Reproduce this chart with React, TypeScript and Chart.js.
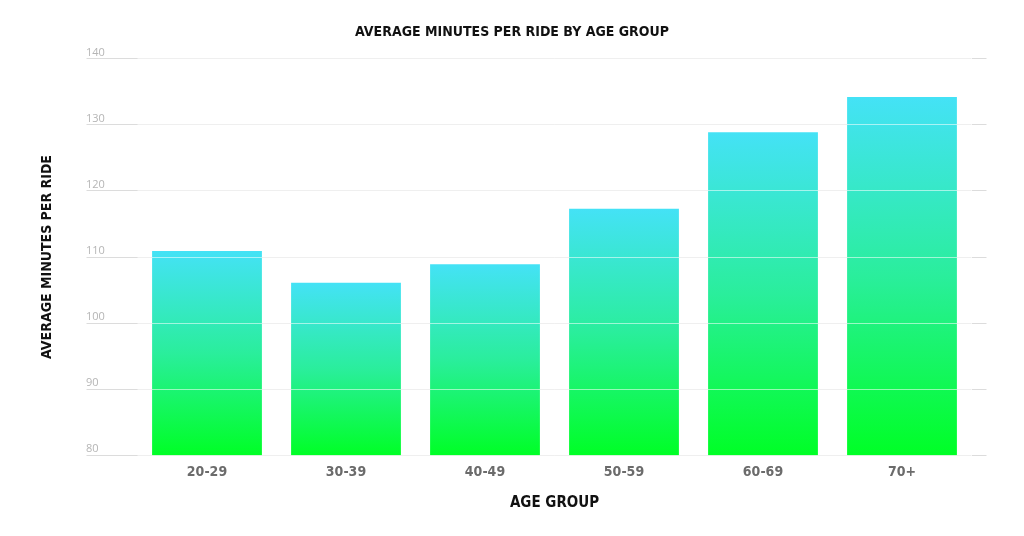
import { useRef, useEffect } from "react"
import { Chart, registerables } from "chart.js"

Chart.register(...registerables)

const ageGroups = ["20-29", "30-39", "40-49", "50-59", "60-69", "70+"]
const avgMinutes = [110.9, 106.1, 108.9, 117.3, 128.9, 134.2]
const yMin = 80
const yMax = 140
const yStep = 10

const narrow = "'Liberation Sans Narrow', 'DejaVu Sans Condensed', sans-serif"

function barGradient(c: any) {
  const chart = c.chart
  const y = chart.scales && chart.scales.y
  if (!chart.chartArea || !y || c.raw == null) return "#2BEE98"
  const top = y.getPixelForValue(c.raw)
  const base = y.getPixelForValue(yMin)
  const g = chart.ctx.createLinearGradient(0, top, 0, base)
  g.addColorStop(0, "#44E2F6")
  g.addColorStop(0.5, "#2AEE9C")
  g.addColorStop(1, "#00FF26")
  return g
}

export default function App() {
  const chartRef = useRef<HTMLCanvasElement>(null)
  const chartInstance = useRef<Chart | null>(null)

  useEffect(() => {
    if (!chartRef.current) return
    if (chartInstance.current) chartInstance.current.destroy()
    const ctx = chartRef.current.getContext("2d")
    if (!ctx) return

    chartInstance.current = new Chart(ctx, {
      type: "bar",
      data: {
        labels: ageGroups,
        datasets: [
          {
            label: "Average minutes per ride",
            data: avgMinutes,
            xAxisID: "x",
            yAxisID: "y",
            backgroundColor: barGradient,
            borderWidth: 0,
            categoryPercentage: 1,
            barPercentage: 0.79,
          },
        ],
      },
      options: {
        animation: false,
        responsive: false,
        maintainAspectRatio: false,
        layout: { padding: { left: 0, right: 0, top: 0, bottom: 18 } },
        plugins: {
          legend: { display: false },
          tooltip: { enabled: false },
          title: {
            display: true,
            text: "AVERAGE MINUTES PER RIDE BY AGE GROUP",
            color: "#111",
            font: { family: narrow, size: 14, weight: "bold" },
            padding: { top: 24, bottom: 18 },
          },
        },
        scales: {
          x: {
            grid: { display: false, drawTicks: false },
            border: { display: false },
            ticks: {
              color: "#6b6b6b",
              font: { family: narrow, size: 14, weight: "bold" },
              padding: 9,
            },
            title: {
              display: true,
              text: "AGE GROUP",
              color: "#111",
              font: { family: narrow, size: 15, weight: "bold" },
              padding: { top: 4, bottom: 6 },
            },
          },
          yTitle: {
            type: "linear",
            position: "left",
            weight: 1,
            min: 0,
            max: 1,
            grid: { display: false, drawTicks: false },
            border: { display: false },
            ticks: { display: false },
            title: {
              display: true,
              text: "AVERAGE MINUTES PER RIDE",
              color: "#111",
              font: { family: narrow, size: 14, weight: "bold" },
              padding: { top: 39, bottom: 0 },
            },
            afterFit: (s: any) => {
              s.width = 86
            },
          },
          y: {
            type: "linear",
            position: "left",
            weight: 0,
            min: yMin,
            max: yMax,
            grid: { color: "#dcdcdc", tickColor: "#dcdcdc", tickLength: 51, lineWidth: 1 },
            border: { display: false },
            ticks: {
              stepSize: yStep,
              color: "#b5b5b5",
              crossAlign: "far",
              labelOffset: -6,
              padding: 0,
              font: { family: "'Open Sans', sans-serif", size: 11 },
            },
            afterFit: (s: any) => {
              s.width = 51.5
            },
          },
          yRight: {
            type: "linear",
            position: "right",
            min: yMin,
            max: yMax,
            grid: {
              color: "rgba(255,255,255,0.55)",
              tickColor: "#dcdcdc",
              tickLength: 15,
              z: 1,
            },
            border: { display: false },
            ticks: { display: false, stepSize: yStep },
            afterFit: (s: any) => {
              s.width = 52.5
            },
          },
        },
      },
    } as any)

    return () => {
      if (chartInstance.current) {
        chartInstance.current.destroy()
        chartInstance.current = null
      }
    }
  }, [])

  return (
    <div style={{ position: "fixed", left: 0, top: 0, width: 1024, height: 536, background: "#fff" }}>
      <canvas ref={chartRef} width={1024} height={536} style={{ width: 1024, height: 536 }} />
    </div>
  )
}
